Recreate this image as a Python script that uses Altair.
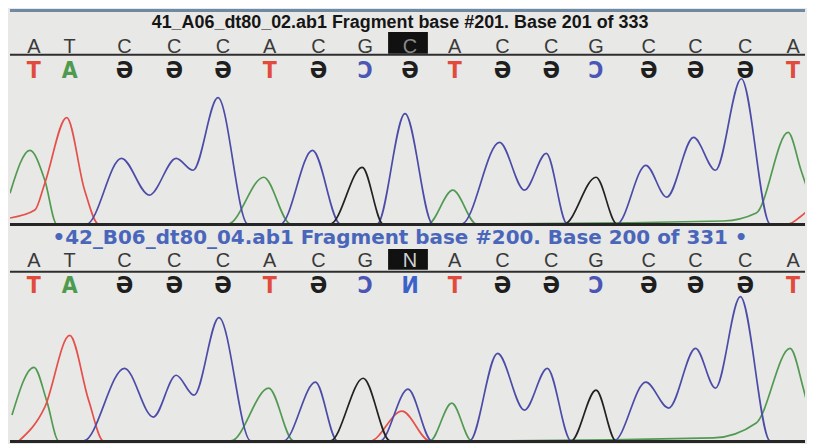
import altair as alt
import pandas as pd

# ---------------- data ----------------
base_pos = [32, 68, 123, 173, 222, 269, 318, 365, 410, 455, 503, 552, 597, 650, 697, 747, 795]
calls_1 = ["A", "T", "C", "C", "C", "A", "C", "G", "C", "A", "C", "C", "G", "C", "C", "C", "A"]
calls_2 = ["A", "T", "C", "C", "C", "A", "C", "G", "N", "A", "C", "C", "G", "C", "C", "C", "A"]
highlight_index = 8

title_1 = "41_A06_dt80_02.ab1 Fragment base #201. Base 201 of 333"
title_2 = "\u202242_B06_dt80_04.ab1 Fragment base #200. Base 200 of 331 \u2022"

# panel 1 traces (scan position, signal)
p1_A_x = [8, 28, 43, 55, 227, 263, 290, 428, 453, 477, 725, 758, 790, 803, 815]
p1_A_y = [31, 74, 44, 0, 0, 47, 0, 0, 34, 0, 3, 11, 92, 54, 18]
p1_T_x = [8, 33, 43, 65, 83, 97, 790, 802, 815]
p1_T_y = [6, 14, 41, 107, 34, 0, 0, 7, 19]
p1_C_x = [8, 85, 120, 148, 175, 192, 217, 247, 280, 312, 340, 377, 405, 433, 462, 500, 525,
          547, 568, 618, 647, 668, 695, 717, 743, 772, 815]
p1_C_y = [0, 0, 66, 29, 66, 54, 127, 0, 0, 74, 0, 0, 111, 0, 0, 82, 34, 71, 0, 0, 59, 27, 87,
          54, 146, 0, 0]
p1_G_x = [8, 330, 362, 383, 565, 597, 618, 815]
p1_G_y = [0, 0, 57, 0, 0, 47, 0, 0]

# panel 2 traces
p2_A_x = [10, 32, 45, 57, 230, 268, 293, 430, 452, 472, 715, 758, 792, 805, 815]
p2_A_y = [26, 74, 40, 0, 0, 53, 0, 0, 38, 0, 3, 18, 93, 54, 12]
p2_T_x = [17, 43, 68, 87, 102, 370, 402, 430, 815]
p2_T_y = [0, 34, 106, 41, 0, 0, 30, 0, 0]
p2_C_x = [8, 82, 123, 152, 175, 193, 218, 250, 283, 315, 337, 380, 408, 432, 470, 498, 525,
          548, 572, 615, 647, 670, 697, 717, 742, 772, 815]
p2_C_y = [0, 0, 73, 24, 66, 46, 124, 0, 0, 59, 0, 0, 52, 0, 0, 88, 31, 73, 0, 0, 59, 33, 93,
          53, 145, 0, 0]
p2_G_x = [8, 330, 363, 390, 572, 597, 617, 815]
p2_G_y = [0, 0, 63, 0, 0, 51, 0, 0]

trace_colors = {"A": "#529a52", "C": "#4c4ca8", "G": "#222222", "T": "#e5504a"}
mirror = {"A": ("T", "#e24a3c"), "T": ("A", "#4e9a4e"), "C": ("\u018F", "#1e1e1e"),
          "G": ("\u0186", "#4a55b5"), "N": ("\u0418", "#3a62c8")}

BG = "#e8e8e6"
FONT_NARROW = "Liberation Sans Narrow, Liberation Sans, Arial"
FONT_LOW = "DejaVu Sans Condensed, DejaVu Sans"


def trace_df(series):
    rows = []
    for ch, xs, ys in series:
        for i, (x, y) in enumerate(zip(xs, ys)):
            rows.append({"channel": ch, "i": i, "x": x, "y": y, "col": trace_colors[ch]})
    return pd.DataFrame(rows)


def letters_df(calls, hi_col):
    rows = []
    for i, (p, b) in enumerate(zip(base_pos, calls)):
        low, low_col = mirror[b]
        rows.append({"pos": p, "top": b,
                     "top_col": hi_col if i == highlight_index else "#3a3a3a",
                     "low": low, "low_col": low_col,
                     "hi": i == highlight_index})
    return pd.DataFrame(rows)


W, H = 799, 218
xscale = alt.Scale(domain=[8, 807], nice=False, zero=False)


def panel(traces, letters, title, title_color, title_font, title_size, ydom,
          base_y, top_y, line_y, low_y, title_y, box_y, box_y2, top_bar=False):
    yscale = alt.Scale(domain=ydom, nice=False, zero=False)
    X = alt.X("pos:Q", scale=xscale, axis=None)
    layers = []
    if top_bar:
        layers.append(alt.Chart(pd.DataFrame({"a": [0]})).mark_rule(
            color="#6f88a4", strokeWidth=3).encode(
            x=alt.value(0), x2=alt.value(W), y=alt.value(1.5)))
    layers.append(alt.Chart(pd.DataFrame({"t": [title]})).mark_text(
        font=title_font, fontSize=title_size, fontWeight="bold", color=title_color,
        align="center", baseline="alphabetic").encode(
        text="t:N", x=alt.value(392), y=alt.value(title_y)))
    hi = letters[letters["hi"]]
    layers.append(alt.Chart(hi).transform_calculate(
        x0="datum.pos - 22", x1="datum.pos + 18").mark_rect(color="#111111").encode(
        x=alt.X("x0:Q", scale=xscale, axis=None), x2="x1:Q",
        y=alt.value(box_y), y2=alt.value(box_y2)))
    layers.append(alt.Chart(letters).mark_text(
        font=FONT_NARROW, fontSize=20, align="center", baseline="alphabetic").encode(
        x=X, y=alt.value(top_y), text="top:N", fill=alt.Fill("top_col:N", scale=None)))
    layers.append(alt.Chart(pd.DataFrame({"a": [0]})).mark_rule(
        color="#2e2e2e", strokeWidth=2).encode(
        x=alt.value(0), x2=alt.value(W), y=alt.value(line_y)))
    layers.append(alt.Chart(letters).mark_text(
        font=FONT_LOW, fontSize=23, fontWeight="bold", align="center",
        baseline="alphabetic").encode(
        x=X, y=alt.value(low_y), text="low:N", fill=alt.Fill("low_col:N", scale=None)))
    layers.append(alt.Chart(traces).mark_line(
        interpolate="monotone", strokeWidth=1.7, clip=True).encode(
        x=alt.X("x:Q", scale=xscale, axis=None),
        y=alt.Y("y:Q", scale=yscale, axis=None),
        stroke=alt.Stroke("col:N", scale=None),
        detail="channel:N", order="i:Q"))
    layers.append(alt.Chart(pd.DataFrame({"a": [0]})).mark_rule(
        color="#262626", strokeWidth=3).encode(
        x=alt.value(0), x2=alt.value(W), y=alt.value(base_y)))
    return alt.layer(*layers).properties(width=W, height=H)


tr1 = trace_df([("A", p1_A_x, p1_A_y), ("T", p1_T_x, p1_T_y),
                ("C", p1_C_x, p1_C_y), ("G", p1_G_x, p1_G_y)])
tr2 = trace_df([("A", p2_A_x, p2_A_y), ("T", p2_T_x, p2_T_y),
                ("C", p2_C_x, p2_C_y), ("G", p2_G_x, p2_G_y)])

top = panel(tr1, letters_df(calls_1, "#8a8a8a"), title_1, "#151515",
            "Liberation Sans, Arial", 18, [-2, 216],
            base_y=216.5, top_y=44, line_y=46, low_y=69, title_y=19,
            box_y=23, box_y2=45, top_bar=True)
bottom = panel(tr2, letters_df(calls_2, "#d0d0d0"), title_2, "#4a66bb",
               "DejaVu Sans, Verdana", 20, [-2, 216],
               base_y=216.5, top_y=41, line_y=46, low_y=67, title_y=18,
               box_y=23, box_y2=44)

chart = alt.vconcat(top, bottom, spacing=0).properties(
    padding=0, background=BG).configure_view(stroke=None)

chart.save("out.html", embed_options={"renderer": "svg", "actions": False})
